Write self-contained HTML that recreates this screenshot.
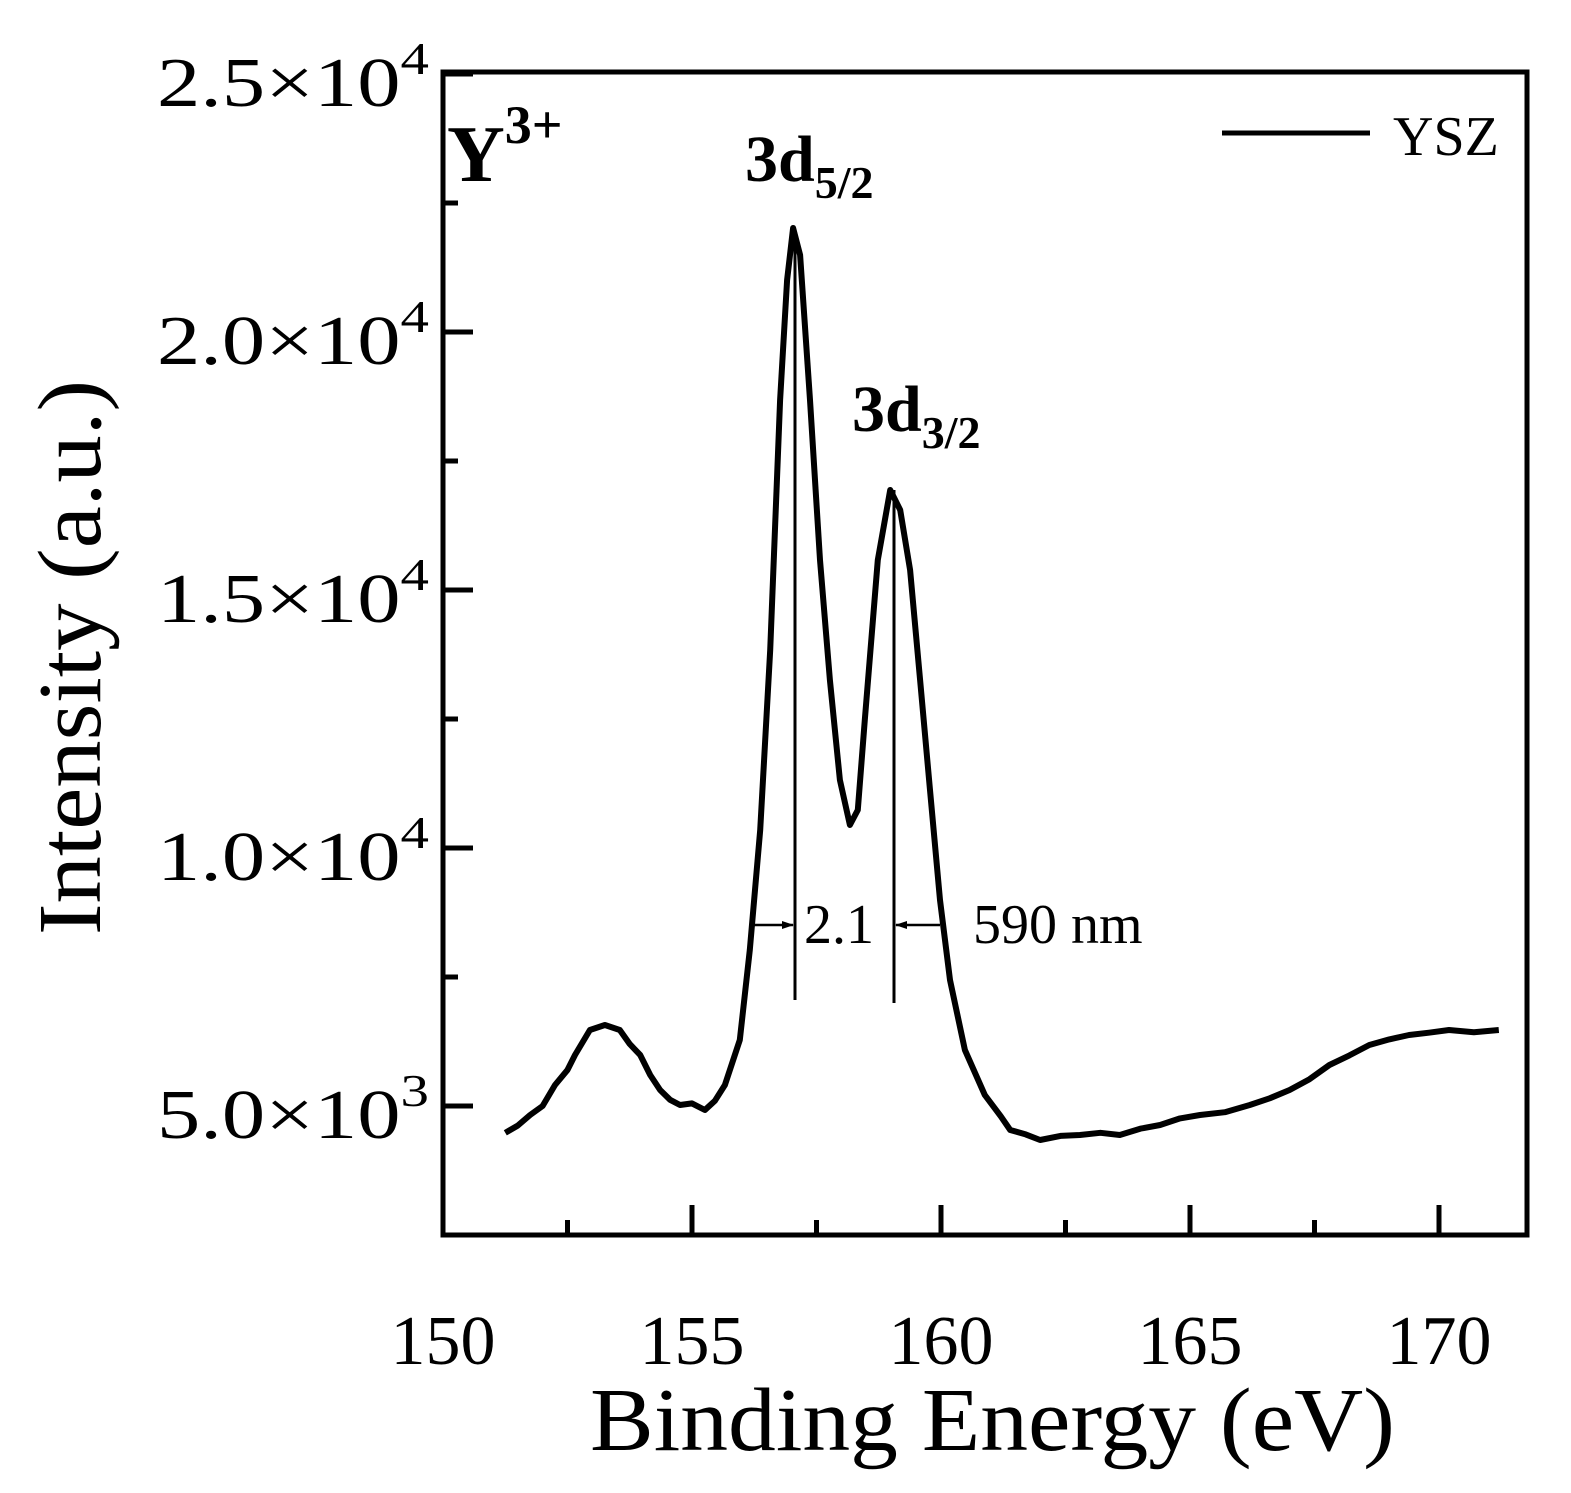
<!DOCTYPE html>
<html><head><meta charset="utf-8"><style>
html,body{margin:0;padding:0;background:#fff;}
svg{display:block;font-family:"Liberation Serif",serif;}
</style></head><body>
<svg id="chart" width="1571" height="1493" viewBox="0 0 1571 1493">
<defs>
<marker id="arr" markerWidth="12" markerHeight="10" refX="11" refY="5" orient="auto" markerUnits="userSpaceOnUse"><path d="M0,1 L12,5 L0,9 Z" fill="#000"/></marker>
</defs>
<g id="plot"></g>
<g stroke="#000" stroke-width="3">
<line x1="795" y1="240" x2="795" y2="1000"/>
<line x1="894" y1="490" x2="894" y2="1003"/>
<line x1="750" y1="925" x2="793" y2="925" stroke-width="2.5" marker-end="url(#arr)"/>
<line x1="940" y1="925" x2="896" y2="925" stroke-width="2.5" marker-end="url(#arr)"/>
</g>
<text x="804" y="943" font-size="56">2.1</text>
<text x="973" y="943" font-size="56">590 nm</text>
<text x="745" y="181" font-size="66" font-weight="bold">3d<tspan font-size="46" dy="17">5/2</tspan></text>
<text x="852" y="431" font-size="66" font-weight="bold">3d<tspan font-size="46" dy="17">3/2</tspan></text>
<text x="447" y="181" font-size="80" font-weight="bold">Y<tspan font-size="54" dy="-38">3+</tspan></text>
<line x1="1222" y1="133" x2="1370" y2="133" stroke="#000" stroke-width="5"/>
<text x="1393" y="155" font-size="56">YSZ</text>
<text x="590" y="1450" font-size="90" textLength="805" lengthAdjust="spacingAndGlyphs">Binding Energy (eV)</text>
<text transform="translate(100,935) rotate(-90)" font-size="90" textLength="555" lengthAdjust="spacingAndGlyphs">Intensity (a.u.)</text>
</svg>
<script>
const energies=[151.25,151.5,151.75,152.0,152.25,152.5,152.65,152.95,153.25,153.55,153.75,153.96,154.16,154.36,154.56,154.76,155.0,155.26,155.46,155.66,155.96,156.16,156.37,156.57,156.77,156.91,157.03,157.17,157.37,157.57,157.77,157.97,158.17,158.33,158.47,158.73,158.98,159.18,159.38,159.58,159.78,159.98,160.18,160.48,160.88,161.2,161.39,161.7,161.99,162.4,162.79,163.2,163.59,164.0,164.4,164.8,165.2,165.7,166.2,166.6,167.0,167.4,167.8,168.2,168.6,169.0,169.4,169.8,170.2,170.7,171.2];
const intensities=[4480,4620,4826,5000,5407,5700,5988,6473,6570,6473,6200,5988,5600,5310,5120,5019,5050,4922,5100,5407,6279,8023,10349,13837,18682,21008,22016,21493,18682,15581,13256,11318,10446,10736,12481,15581,16938,16550,15388,13256,11124,8992,7442,6085,5213,4800,4535,4450,4341,4420,4438,4480,4438,4560,4632,4760,4826,4880,5019,5150,5310,5520,5795,5980,6182,6290,6376,6420,6473,6430,6473];
const xTicks=[150,155,160,165,170];
const yTicks=[5000,10000,15000,20000,25000];
const yTickLabels=["5.0×10","1.0×10","1.5×10","2.0×10","2.5×10"];
const yTickExps=["3","4","4","4","4"];
const L=443,R=1527,T=72,B=1235;
const x=v=>L+(v-150)*49.8;
const y=v=>1106-(v-5000)/5000*258;
const NS="http://www.w3.org/2000/svg";
const g=document.getElementById('plot');
function mk(tag,attrs,parent){const e=document.createElementNS(NS,tag);for(const k in attrs)e.setAttribute(k,attrs[k]);(parent||g).appendChild(e);return e;}
let fr=mk('rect',{x:L,y:T,width:R-L,height:B-T,fill:'none',stroke:'#000','stroke-width':5});


for(let v=150;v<=172;v+=2.5){const major=Math.abs(v%5)<1e-6;const t=mk('line',{x1:x(v),x2:x(v),y1:B,y2:B-(major?30:15),stroke:'#000','stroke-width':5});

}
xTicks.forEach(v=>{const t=mk('text',{x:x(v),y:1364,'font-size':70,'text-anchor':'middle'});t.textContent=v;

});
for(let v=2500;v<=25000;v+=2500){const major=v%5000===0;const t=mk('line',{x1:L,x2:L+(major?30:15),y1:y(v),y2:y(v),stroke:'#000','stroke-width':5});

}
yTicks.forEach((v,i)=>{const t=mk('text',{x:157,y:y(v)+32,'font-size':70,textLength:272,lengthAdjust:'spacingAndGlyphs'});


const a=document.createElementNS(NS,'tspan');a.textContent=yTickLabels[i];t.appendChild(a);
const b=document.createElementNS(NS,'tspan');b.setAttribute('dy','-32');b.setAttribute('font-size','46');b.textContent=yTickExps[i];t.appendChild(b);});
let d=energies.map((e,i)=>(i?'L':'M')+x(e).toFixed(1)+','+y(intensities[i]).toFixed(1)).join(' ');
let p=mk('path',{d:d,fill:'none',stroke:'#000','stroke-width':6,'stroke-linejoin':'round'});


</script>
</body></html>
